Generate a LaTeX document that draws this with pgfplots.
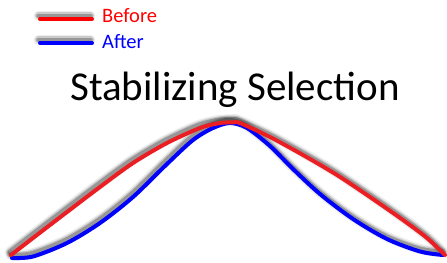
\documentclass[border=0pt]{standalone}
\usepackage{pgfplots}
\pgfplotsset{compat=1.18}
\usepackage{pgfplotstable}
\usepackage{fontspec}
\setmainfont{Carlito}
\definecolor{cred}{RGB}{235,30,36}
\definecolor{cblue}{RGB}{0,0,255}
\pgfplotstableread{
x y
11 255
33 238
67 212
100 187
133 163
167 143
200 128
220 123
233 122.5
240 123
270 137
303 155
337 175
370 197
403 220
427 238
445 255
}\beforetab
\pgfplotstableread{
x y
12 258
33 256.5
67 243
100 223
133 197
167 164
193 140
213 128
230 123
247 128
270 146
293 169
320 194
353 219
387 239
420 251.5
443 255
}\aftertab
\pgfplotstableread{
x y
40 19
92 19
}\legbeforetab
\pgfplotstableread{
x y
40 43
92 43
}\legaftertab
\pgfplotsset{
  shA/.style={black, opacity=0.07, line width=10bp, transform canvas={yshift=3bp,xshift=-1.5bp}},
  shB/.style={black, opacity=0.15, line width=7bp, transform canvas={yshift=3bp,xshift=-1.5bp}},
  shC/.style={black, opacity=0.25, line width=4.5bp, transform canvas={yshift=3bp,xshift=-1.5bp}},
}
\begin{document}
\begin{tikzpicture}
\path[use as bounding box] (0,0) rectangle (447bp,263bp);
\begin{axis}[
  at={(0,0)}, anchor=south west,
  width=447bp, height=263bp, scale only axis,
  xmin=0, xmax=447, ymin=0, ymax=263, y dir=reverse,
  hide axis, clip=false,
  every axis plot/.append style={line cap=round, line join=round},
]
\addplot[shA, smooth] table {\beforetab};
\addplot[shB, smooth] table {\beforetab};
\addplot[shC, smooth] table {\beforetab};
\addplot[shA, smooth] table {\aftertab};
\addplot[shB, smooth] table {\aftertab};
\addplot[shC, smooth] table {\aftertab};
\addplot[shA] table {\legbeforetab};
\addplot[shB] table {\legbeforetab};
\addplot[shC] table {\legbeforetab};
\addplot[shA] table {\legaftertab};
\addplot[shB] table {\legaftertab};
\addplot[shC] table {\legaftertab};
\addplot[cblue, line width=4bp, smooth] table {\aftertab};
\addplot[cred, line width=4bp, smooth] table {\beforetab};
\addplot[red, line width=4bp] table {\legbeforetab};
\addplot[cblue, line width=4bp] table {\legaftertab};
\node[anchor=base west, text=red, font=\fontsize{20.5bp}{22bp}\selectfont, inner sep=0pt] at (axis cs:102,23) {Before};
\node[anchor=base west, text=cblue, font=\fontsize{20.5bp}{22bp}\selectfont, inner sep=0pt] at (axis cs:102,48) {After};
\node[anchor=base, text=black, font=\fontsize{41bp}{44bp}\selectfont, inner sep=0pt] at (axis cs:235,100) {Stabilizing Selection};
\end{axis}
\end{tikzpicture}
\end{document}
